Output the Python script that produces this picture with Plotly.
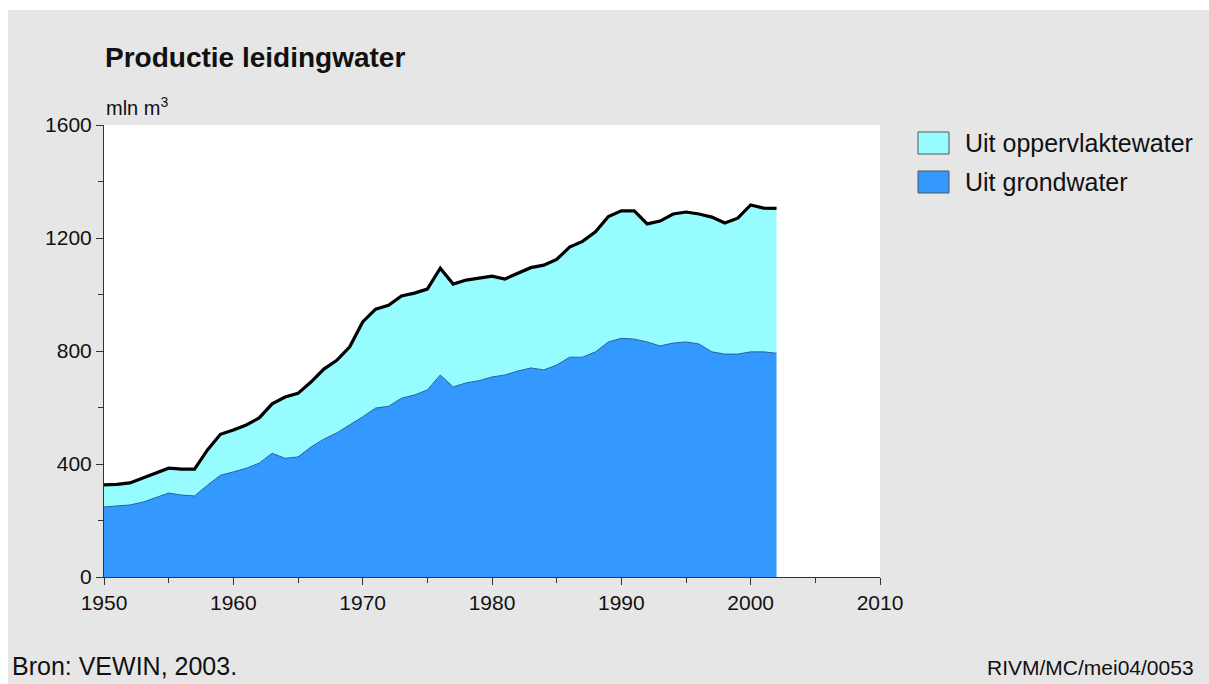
import plotly.graph_objects as go

years = list(range(1950, 2003))
total = [326, 328, 333, 350, 368, 385, 382, 382, 450, 505, 520, 538, 563, 613, 637, 650,
         690, 736, 767, 815, 903, 948, 962, 995, 1005, 1019, 1093, 1037, 1051, 1058, 1065,
         1055, 1075, 1095, 1104, 1124, 1168, 1188, 1222, 1276, 1296, 1296, 1250, 1260, 1285,
         1292, 1285, 1274, 1253, 1270, 1317, 1306, 1305]
ground = [248, 252, 255, 265, 280, 297, 290, 287, 325, 360, 372, 385, 403, 438, 420, 425,
          460, 488, 510, 538, 567, 598, 604, 633, 644, 662, 715, 673, 687, 695, 708,
          715, 729, 740, 733, 750, 778, 778, 797, 832, 845, 842, 832, 818, 828,
          832, 825, 797, 789, 789, 797, 797, 792]

series_names = ["Uit oppervlaktewater", "Uit grondwater"]
x_ticks = [1950, 1960, 1970, 1980, 1990, 2000, 2010]
y_ticks = [0, 400, 800, 1200, 1600]

C_SURF = "#96FCFF"
C_GROUND = "#3399FF"
BG = "#E6E6E6"
FONT = "Liberation Sans, Arial, sans-serif"

fig = go.Figure()
fig.add_trace(go.Scatter(x=years, y=ground, mode="lines", fill="tozeroy",
                         fillcolor=C_GROUND, line=dict(color="#1F5F9F", width=1),
                         name=series_names[1], showlegend=False, hoverinfo="x+y"))
fig.add_trace(go.Scatter(x=years, y=total, mode="lines", fill="tonexty",
                         fillcolor=C_SURF, line=dict(color="#000000", width=3.2),
                         name=series_names[0], showlegend=False, hoverinfo="x+y"))

W, H = 1209, 684
# plot area in page pixels
L, R, T, B = 104, 880, 125, 577


def px_x(px):
    return (px - L) / (R - L)


def px_y(py):
    return (B - py) / (B - T)


shapes = [
    # white page edge at top and left (outside the grey panel)
    dict(type="rect", xref="paper", yref="paper", x0=px_x(-2), x1=px_x(W + 2),
         y0=px_y(10), y1=px_y(-2), fillcolor="white", line=dict(width=0), layer="above"),
    dict(type="rect", xref="paper", yref="paper", x0=px_x(-2), x1=px_x(8),
         y0=px_y(H + 2), y1=px_y(-2), fillcolor="white", line=dict(width=0), layer="above"),
]
annotations = []
legend_items = [(series_names[0], C_SURF, 143), (series_names[1], C_GROUND, 182)]
for name, col, cy in legend_items:
    shapes.append(dict(type="rect", xref="paper", yref="paper",
                       x0=px_x(918), x1=px_x(949), y0=px_y(cy + 11), y1=px_y(cy - 11),
                       fillcolor=col, line=dict(color="#555555", width=1)))
    annotations.append(dict(text=name, xref="paper", yref="paper", x=px_x(963), y=px_y(cy),
                            xanchor="left", yanchor="middle", showarrow=False,
                            font=dict(family=FONT, size=25, color="#111111")))

annotations += [
    dict(text="<b>Productie leidingwater</b>", xref="paper", yref="paper", x=px_x(103), y=px_y(57),
         xanchor="left", yanchor="middle", showarrow=False,
         font=dict(family=FONT, size=28, color="#111111")),
    dict(text="mln m<sup>3</sup>", xref="paper", yref="paper", x=px_x(104), y=px_y(106),
         xanchor="left", yanchor="middle", showarrow=False,
         font=dict(family=FONT, size=20, color="#111111")),
    dict(text="Bron: VEWIN, 2003.", xref="paper", yref="paper", x=px_x(10), y=px_y(666),
         xanchor="left", yanchor="middle", showarrow=False,
         font=dict(family=FONT, size=25, color="#111111")),
    dict(text="RIVM/MC/mei04/0053", xref="paper", yref="paper", x=px_x(985), y=px_y(667),
         xanchor="left", yanchor="middle", showarrow=False,
         font=dict(family=FONT, size=21, color="#111111")),
]

fig.update_layout(
    width=W, height=H,
    margin=dict(l=L, r=W - R, t=T, b=H - B, pad=0),
    paper_bgcolor=BG, plot_bgcolor="white",
    shapes=shapes, annotations=annotations,
    showlegend=False,
    font=dict(family=FONT, size=21, color="#111111"),
)
fig.update_xaxes(range=[1950, 2010], tickvals=x_ticks, ticks="outside", ticklen=7,
                 tickcolor="#333333", showline=True, linecolor="#333333", linewidth=1,
                 showgrid=False, zeroline=False, tickfont=dict(size=21),
                 minor=dict(dtick=5, tick0=1950, ticks="outside", ticklen=5, tickcolor="#333333"))
fig.update_yaxes(range=[0, 1600], tickvals=y_ticks, ticks="outside", ticklen=7,
                 tickcolor="#333333", showline=True, linecolor="#333333", linewidth=1,
                 showgrid=False, zeroline=False, tickfont=dict(size=21),
                 minor=dict(dtick=200, tick0=0, ticks="outside", ticklen=5, tickcolor="#333333"))

fig.write_html("out.html", config={"displayModeBar": False},
               post_script="document.body.style.margin='0';document.body.style.overflow='hidden';")
